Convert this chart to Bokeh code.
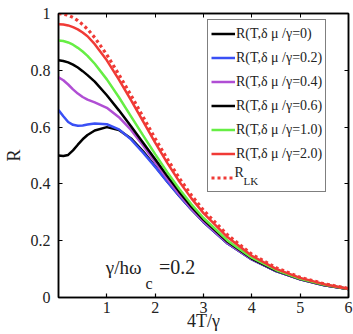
from bokeh.plotting import figure
from bokeh.models import (Range1d, FixedTicker, LinearAxis, Legend, LegendItem, Label)
from bokeh.embed import file_html
from bokeh.resources import INLINE

# ---- data ----
x_vals = [0, 0.1, 0.2, 0.3, 0.4, 0.5, 0.6, 0.75, 1.0, 1.25, 1.5, 1.75, 2.0,
          2.25, 2.5, 2.75, 3.0, 3.5, 4.0, 4.5, 5.0, 5.5, 6.0]
r_lk = [1.0, 0.998, 0.994, 0.986, 0.975, 0.961, 0.945, 0.915, 0.855, 0.785, 0.712,
        0.636, 0.56, 0.488, 0.42, 0.36, 0.307, 0.22, 0.152, 0.105, 0.071, 0.048, 0.032]
r_20 = [0.962, 0.961, 0.958, 0.952, 0.944, 0.933, 0.92, 0.892, 0.835, 0.767, 0.695,
        0.62, 0.545, 0.474, 0.408, 0.349, 0.297, 0.212, 0.147, 0.101, 0.069, 0.047, 0.031]
r_10 = [0.905, 0.903, 0.898, 0.89, 0.879, 0.866, 0.851, 0.823, 0.768, 0.705, 0.638,
        0.571, 0.505, 0.441, 0.382, 0.328, 0.28, 0.2, 0.14, 0.097, 0.066, 0.045, 0.03]
r_06 = [0.835, 0.833, 0.828, 0.82, 0.81, 0.797, 0.783, 0.76, 0.712, 0.659, 0.603,
        0.545, 0.487, 0.428, 0.372, 0.32, 0.274, 0.196, 0.137, 0.095, 0.065, 0.044, 0.03]
r_04 = [0.775, 0.765, 0.75, 0.733, 0.718, 0.706, 0.697, 0.687, 0.668, 0.635, 0.59,
        0.535, 0.476, 0.418, 0.363, 0.313, 0.268, 0.192, 0.135, 0.094, 0.064, 0.043, 0.03]
r_02 = [0.66, 0.638, 0.618, 0.608, 0.605, 0.606, 0.609, 0.613, 0.61, 0.592, 0.557,
        0.51, 0.46, 0.408, 0.358, 0.31, 0.266, 0.19, 0.134, 0.093, 0.064, 0.043, 0.03]
r_00 = [0.50, 0.498, 0.502, 0.518, 0.538, 0.557, 0.572, 0.588, 0.6, 0.59, 0.56,
        0.515, 0.462, 0.409, 0.358, 0.31, 0.266, 0.19, 0.134, 0.093, 0.064, 0.043, 0.03]

labels = ["R(T,δ μ /γ=0)", "R(T,δ μ /γ=0.2)", "R(T,δ μ /γ=0.4)",
          "R(T,δ μ /γ=0.6)", "R(T,δ μ /γ=1.0)", "R(T,δ μ /γ=2.0)", " "]
x_ticks = [1, 2, 3, 4, 5, 6]
y_ticks = [0, 0.2, 0.4, 0.6, 0.8, 1.0]
y_tick_labels = ["0", "0.2", "0.4", "0.6", "0.8", "1"]

FONT = "Liberation Serif"
TXT = "#222222"

p = figure(width=353, height=334, output_backend="svg", toolbar_location=None,
           x_range=Range1d(0, 6), y_range=Range1d(0, 1),
           min_border_left=54, min_border_right=5, min_border_top=13,
           min_border_bottom=37)
p.xgrid.visible = False
p.ygrid.visible = False
p.outline_line_color = "black"
p.outline_line_width = 1.5
p.background_fill_color = "white"
p.border_fill_color = "white"

colors = ["#000000", "#3a50f5", "#b04ed4", "#000000", "#66ee44", "#f03a36"]
series = [r_00, r_02, r_04, r_06, r_10, r_20]
renderers = []
for ys, c in zip(series, colors):
    renderers.append(p.line(x_vals, ys, line_color=c, line_width=2.5))
renderers.append(p.line(x_vals, r_lk, line_color="#f03a36", line_width=3.2,
                        line_dash="3 3"))

# axes
xa = p.xaxis[0]
ya = p.yaxis[0]
xa.ticker = FixedTicker(ticks=x_ticks)
ya.ticker = FixedTicker(ticks=y_ticks)
ya.major_label_overrides = {t: s for t, s in zip(y_ticks, y_tick_labels)}
for ax in (xa, ya):
    ax.major_tick_in = 4
    ax.major_tick_out = 0
    ax.minor_tick_line_color = None
    ax.axis_line_width = 1.5
    ax.major_tick_line_width = 1.2
    ax.major_label_text_font = FONT
    ax.major_label_text_font_size = "16px"
    ax.major_label_text_color = TXT
    ax.axis_label_text_font = FONT
    ax.axis_label_text_font_size = "18px"
    ax.axis_label_text_font_style = "normal"
    ax.axis_label_text_color = TXT
xa.axis_label = "4T/γ"
ya.axis_label = "R"
xa.major_label_standoff = 4
xa.axis_label_standoff = -5
ya.major_label_standoff = 8
ya.axis_label_standoff = 4

for loc, tk in (("above", x_ticks), ("right", y_ticks)):
    ax = LinearAxis(ticker=FixedTicker(ticks=tk))
    ax.major_tick_in = 4
    ax.major_tick_out = 0
    ax.minor_tick_line_color = None
    ax.major_label_overrides = {t: "" for t in tk}
    ax.major_label_text_font_size = "1px"
    ax.major_label_standoff = 0
    ax.axis_line_width = 1.5
    p.add_layout(ax, loc)

# legend
items = [LegendItem(label=l, renderers=[r]) for l, r in zip(labels, renderers)]
legend = Legend(items=items, location=(149, 105))
legend.label_text_font = FONT
legend.label_text_font_size = "14px"
legend.label_text_color = TXT
legend.glyph_width = 24
legend.glyph_height = 21
legend.label_height = 21
legend.label_standoff = 1
legend.spacing = 3
legend.padding = 3
legend.margin = 0
legend.border_line_color = "black"
legend.border_line_width = 1.5
legend.background_fill_alpha = 0
p.add_layout(legend, "center")

# R_LK entry text: raised "R" with subscript "LK"
p.add_layout(Label(x=3.64, y=0.413, text="R", text_font=FONT, text_font_size="14px",
                   text_color=TXT, level="overlay"))
p.add_layout(Label(x=3.83, y=0.39, text="LK", text_font=FONT, text_font_size="11px",
                   text_color=TXT, level="overlay"))

# annotation γ/hω_c = 0.2
p.add_layout(Label(x=0.98, y=0.067, text="γ/hω", text_font=FONT, text_font_size="19px",
                   text_color=TXT))
p.add_layout(Label(x=1.80, y=0.02, text="c", text_font=FONT, text_font_size="16px",
                   text_color=TXT))
p.add_layout(Label(x=2.08, y=0.067, text="=0.2", text_font=FONT, text_font_size="20px",
                   text_color=TXT))

open("out.html", "w").write(file_html(p, INLINE))
